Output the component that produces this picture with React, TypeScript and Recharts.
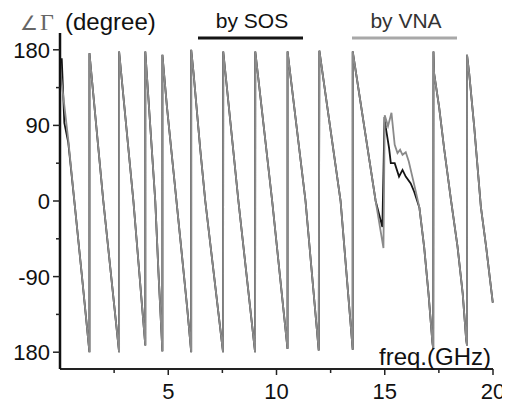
import React from 'react';
import { LineChart, Line, XAxis, YAxis, Legend } from 'recharts';

// phase of Γ (degree) vs frequency (GHz)
const sosFreq = [
  0.08, 0.2, 0.38, 0.69, 1.0, 1.36,
  1.36, 2.0, 2.73,
  2.73, 3.39, 3.94,
  3.94, 4.4, 4.55, 4.73,
  4.73, 4.94, 5.25, 5.56, 5.87, 6.06,
  6.06, 6.17, 6.48, 6.71, 7.53,
  7.54, 8.24, 9.01,
  9.02, 9.8, 10.51,
  10.51, 11.34, 11.95,
  11.98, 12.96, 13.52,
  13.52, 14.58, 14.89,
  14.99, 15.05, 15.2, 15.28, 15.46, 15.66, 15.82, 15.97, 16.2, 16.36, 16.5, 16.6, 16.82, 17.02, 17.2, 17.24,
  17.25, 17.28, 17.51, 17.75, 18.06, 18.36, 18.6, 18.76, 18.8,
  18.8, 18.9, 19.13, 19.44, 19.68, 19.99,
];
const sosPhase = [
  170, 93, 70, -7, -86, -180,
  176, 0, -180,
  178, 0, -172,
  178, 0, -86, -179,
  174, 112, 33, -46, -126, -180,
  180, 152, 61, 0, -180,
  178, 0, -180,
  178, 0, -176,
  178, 0, -178,
  179, 0, -177,
  178, 0, -31,
  100, 87, 63, 45, 45, 29, 37, 29, 21, 11, 0, -8, -55, -110, -168, -176,
  178, 152, 112, 61, 1, -54, -110, -165, -172,
  174, 152, 89, -7, -54, -121,
];

const vnaFreq = [
  0.04, 0.38, 0.69, 1.0, 1.36,
  1.36, 2.0, 2.73,
  2.73, 3.39, 3.94,
  3.94, 4.4, 4.55, 4.73,
  4.73, 4.94, 5.25, 5.56, 5.87, 6.06,
  6.06, 6.17, 6.48, 6.71, 7.53,
  7.54, 8.24, 9.01,
  9.02, 9.8, 10.51,
  10.51, 11.34, 11.95,
  11.98, 12.96, 13.52,
  13.52, 14.58, 14.94,
  15.0, 15.15, 15.31, 15.46, 15.59, 15.71, 15.82, 15.97, 16.11, 16.4, 16.6, 16.82, 17.02, 17.2, 17.24,
  17.25, 17.28, 17.51, 17.75, 18.06, 18.36, 18.6, 18.76, 18.8,
  18.8, 18.9, 19.13, 19.44, 19.68, 19.99,
];
const vnaPhase = [
  150, 73, -7, -86, -180,
  176, 0, -180,
  178, 0, -172,
  178, 0, -86, -179,
  174, 112, 33, -46, -126, -180,
  180, 152, 61, 0, -180,
  178, 0, -180,
  178, 0, -176,
  178, 0, -178,
  179, 0, -177,
  178, 0, -56,
  102, 89, 105, 67, 57, 61, 55, 58, 47, 15, -8, -55, -110, -168, -176,
  178, 152, 112, 61, 1, -54, -110, -165, -172,
  174, 152, 89, -7, -54, -121,
];

const freqTicks = [2.5, 5, 7.5, 10, 12.5, 15, 17.5, 20];
const phaseTicks = [-180, -135, -90, -45, 0, 45, 90, 135, 180];
const majorPhase = [180, 90, 0, -90, -180];
const majorPhaseLabels = ['180', '90', '0', '-90', '180'];

const FONT = '"Liberation Sans", Arial, sans-serif';
const SOS_COLOR = '#151515';
const VNA_COLOR = '#8a8a8a';

const sosData = sosFreq.map((f, i) => ({ f, p: sosPhase[i] }));
const vnaData = vnaFreq.map((f, i) => ({ f, p: vnaPhase[i] }));

const FreqTick = (props: any) => {
  const { x, y, payload } = props;
  const major = payload.value % 5 === 0;
  return (
    <g>
      <line x1={x} x2={x} y1={y} y2={y + (major ? 6 : 4)} stroke="#222" strokeWidth={1.5} />
      {major && (
        <text x={x} y={y + 30} textAnchor="middle" fontSize={22} fontFamily={FONT} fill="#111">
          {payload.value}
        </text>
      )}
    </g>
  );
};

const PhaseTick = (props: any) => {
  const { x, y, payload } = props;
  const i = majorPhase.indexOf(payload.value);
  return (
    <g>
      <line x1={x - (i >= 0 ? 7 : 4)} x2={x} y1={y} y2={y} stroke="#222" strokeWidth={1.5} />
      {i >= 0 && (
        <text x={x - 10} y={y} dy="0.36em" textAnchor="end" fontSize={22} fontFamily={FONT} fill="#111">
          {majorPhaseLabels[i]}
        </text>
      )}
    </g>
  );
};

const TitleLabel = () => (
  <text y={22} fontSize={24} fontFamily={FONT} fill="#111">
    <tspan x={12} fontFamily='"DejaVu Sans", sans-serif' fontSize={20} fill="#666">∠</tspan>
    <tspan x={32} fontFamily='"Liberation Serif", serif' fontSize={24} fill="#666">Γ</tspan>
    <tspan x={57}>(degree)</tspan>
  </text>
);

const FreqLabel = () => (
  <text x={483} y={357} textAnchor="end" fontSize={24} fontFamily={FONT} fill="#111">
    freq.(GHz)
  </text>
);

const LegendBox = () => (
  <svg width={502} height={40}>
    <text x={244} y={20} textAnchor="middle" fontSize={21} fontFamily={FONT} fill="#111">by SOS</text>
    <rect x={190} y={28.5} width={105} height={3} fill={SOS_COLOR} />
    <text x={398} y={20} textAnchor="middle" fontSize={21} fontFamily={FONT} fill="#333">by VNA</text>
    <rect x={344} y={28.5} width={105} height={3} fill="#a8a8a8" />
  </svg>
);

export default function App() {
  return (
    <LineChart width={502} height={397} margin={{ top: 25, right: 17, bottom: 6, left: 0 }}>
      <XAxis
        type="number"
        dataKey="f"
        domain={[0, 20]}
        ticks={freqTicks}
        interval={0}
        height={30}
        tickSize={0}
        tickMargin={0}
        tickLine={false}
        tick={FreqTick}
        axisLine={{ stroke: '#222', strokeWidth: 2 }}
        label={FreqLabel}
      />
      <YAxis
        type="number"
        domain={[-200, 200]}
        ticks={phaseTicks}
        interval={0}
        width={52}
        tickSize={0}
        tickMargin={0}
        tickLine={false}
        tick={PhaseTick}
        axisLine={{ stroke: '#111', strokeWidth: 2.5 }}
        label={TitleLabel}
      />
      <Legend
        verticalAlign="middle"
        layout="horizontal"
        wrapperStyle={{ position: 'absolute', top: 0, left: 0, width: 502, height: 40 }}
        content={() => <LegendBox />}
      />
      <Line
        name="by SOS"
        data={sosData}
        dataKey="p"
        type="linear"
        stroke={SOS_COLOR}
        strokeWidth={1.8}
        dot={false}
        isAnimationActive={false}
      />
      <Line
        name="by VNA"
        data={vnaData}
        dataKey="p"
        type="linear"
        stroke={VNA_COLOR}
        strokeWidth={1.8}
        dot={false}
        isAnimationActive={false}
      />
    </LineChart>
  );
}
